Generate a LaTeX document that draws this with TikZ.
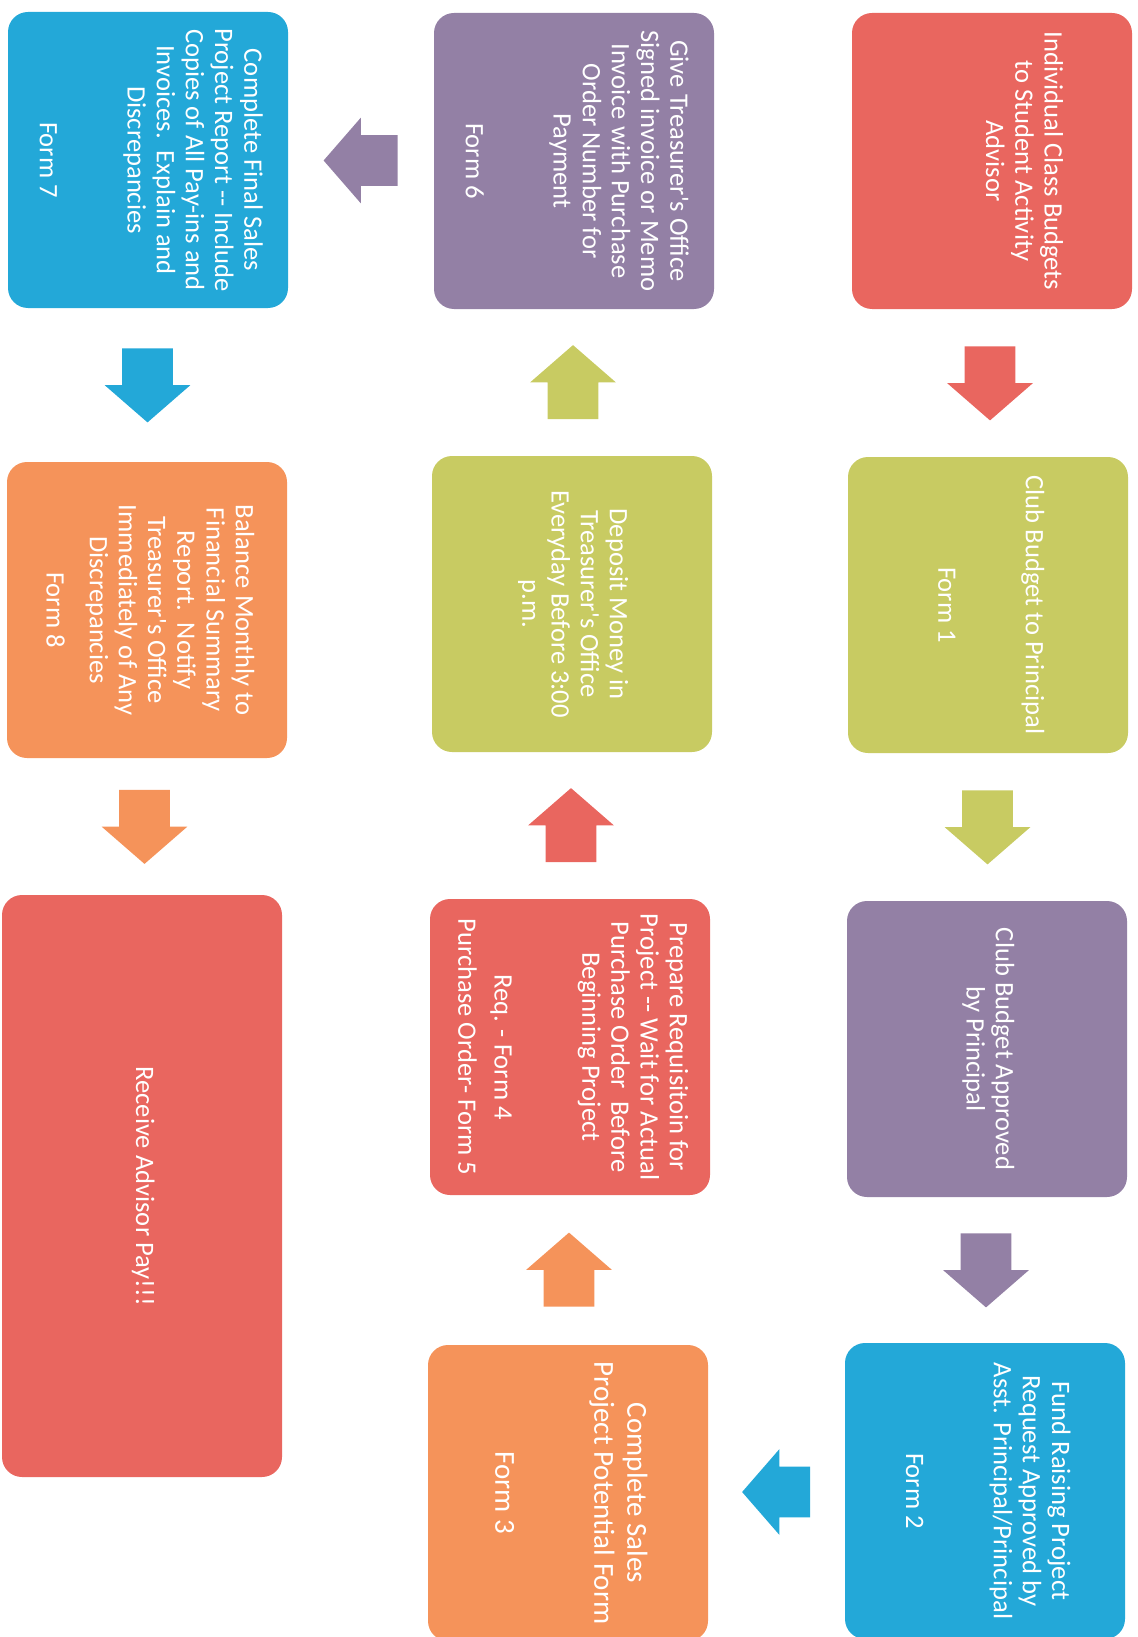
\documentclass[tikz,border=0pt]{standalone}
\usepackage{fontspec}
\usepackage{graphicx}
\newfontfamily\boxfont{Carlito}
\usetikzlibrary{shapes.arrows,calc}

\definecolor{boxred}{HTML}{E9665F}
\definecolor{boxgreen}{HTML}{C8CB62}
\definecolor{boxpurple}{HTML}{9380A5}
\definecolor{boxblue}{HTML}{23A8D8}
\definecolor{boxorange}{HTML}{F5935A}

\newcommand{\vtext}[1]{\rotatebox{-90}{\begin{tabular}{@{}c@{}}#1\end{tabular}}}

\begin{document}
\begin{tikzpicture}[
    x=0.5pt, y=-0.5pt,
    box/.style={rounded corners=10pt, minimum width=140pt, minimum height=148pt,
        inner sep=0pt, text=white, font={\boxfont\fontsize{13.3}{14.6}\selectfont}},
    flow/.style={single arrow, draw=none, anchor=tail,
        single arrow head extend=8.75pt, single arrow tip angle=98, minimum height=37pt},
    flowdown/.style={flow, shape border rotate=270, inner xsep=12.5pt, inner ysep=0pt, yshift=18.5pt},
    flowup/.style={flow, shape border rotate=90, inner xsep=12.5pt, inner ysep=0pt, yshift=-18.5pt},
    flowleft/.style={flow, shape border rotate=180, inner xsep=0pt, inner ysep=12.5pt, xshift=18.5pt}]

  \useasboundingbox (0,0) rectangle (1138,1637);

  \node[box, fill=boxred] (budgets) at (992,161)
    {\vtext{Individual Class Budgets\\to Student Activity\\Advisor\\~\\~}};
  \node[box, fill=boxgreen] (club) at (988,605)
    {\vtext{Club Budget to Principal\\~\\~\\Form 1}};
  \node[box, fill=boxpurple] (approved) at (987,1049)
    {\vtext{Club Budget Approved\\by Principal}};
  \node[box, fill=boxblue] (fund) at (985,1491)
    {\vtext{Fund Raising Project\\Request Approved by\\Asst. Principal/Principal\\~\\~\\Form 2}};

  \node[box, fill=boxorange, font={\boxfont\fontsize{14.5}{16.5}\selectfont}] (sales) at (568,1493)
    {\vtext{Complete Sales\\Project Potential Form\\~\\~\\Form 3}};
  \node[box, fill=boxred] (requisition) at (570,1047)
    {\vtext{Prepare Requisitoin for\\Project -- Wait for Actual\\Purchase Order\ \ Before\\Beginning Project\\~\\~\\Req. - Form 4\\[3.5pt]Purchase Order- Form 5}};
  \node[box, fill=boxgreen] (deposit) at (572,604)
    {\vtext{Deposit Money in\\Treasurer's Office\\Everyday Before 3:00\\p.m.}};
  \node[box, fill=boxpurple] (treasurer) at (574,161)
    {\vtext{Give Treasurer's Office\\Signed invoice or Memo\\Invoice with Purchase\\Order Number for\\Payment\\~\\~\\Form 6}};

  \node[box, fill=boxblue] (final) at (148,160)
    {\vtext{Complete Final Sales\\Project Report -- Include\\Copies of All Pay-ins and\\Invoices.\ \ Explain and\\Discrepancies\\~\\~\\Form 7}};
  \node[box, fill=boxorange] (balance) at (147,610)
    {\vtext{Balance Monthly to\\Financial Summary\\Report.\ \ Notify\\Treasurer's Office\\Immediately of Any\\Discrepancies\\[7pt]Form 8}};
  \node[box, fill=boxred, minimum height=291pt] (pay) at (142,1186)
    {\vtext{Receive Advisor Pay!!!}};

  \node[flowdown, fill=boxred] (a1) at ($(budgets.south)!0.5!(club.north)$) {};
  \node[flowdown, fill=boxgreen] (a2) at ($(club.south)!0.5!(approved.north)$) {};
  \node[flowdown, fill=boxpurple] (a3) at ($(approved.south)!0.5!(fund.north)$) {};
  \node[flowleft, fill=boxblue, minimum height=34pt, xshift=-1.5pt] (a4) at ($(fund.west)!0.5!(sales.east)$) {};
  \node[flowup, fill=boxorange] (a5) at ($(sales.north)!0.5!(requisition.south)$) {};
  \node[flowup, fill=boxred] (a6) at ($(requisition.north)!0.5!(deposit.south)$) {};
  \node[flowup, fill=boxgreen] (a7) at ($(deposit.north)!0.5!(treasurer.south)$) {};
  \node[flowleft, fill=boxpurple] (a8) at ($(treasurer.west)!0.5!(final.east)$) {};
  \node[flowdown, fill=boxblue] (a9) at ($(final.south)!0.5!(balance.north)$) {};
  \node[flowdown, fill=boxorange] (a10) at ($(balance.south)!0.5!(pay.north)$) {};
\end{tikzpicture}
\end{document}
